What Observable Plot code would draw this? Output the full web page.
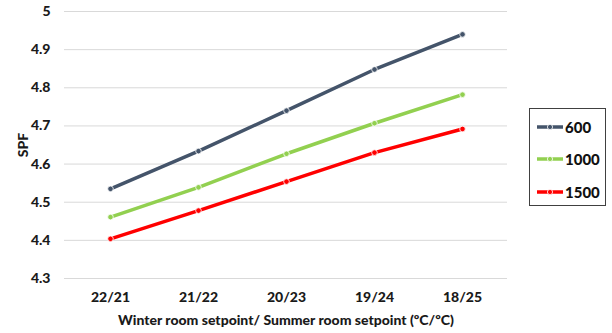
<!DOCTYPE html>
<html>
<head>
<meta charset="utf-8">
<script src="https://cdn.jsdelivr.net/npm/d3@7"></script>
<script src="https://cdn.jsdelivr.net/npm/@observablehq/plot@0.6"></script>
<style>
  html, body { margin: 0; padding: 0; background: #fff; }
  #wrap { position: relative; width: 612px; height: 333px; font-family: Lato, "Liberation Sans", sans-serif; }
  #wrap svg text { font-weight: 900; fill: #1a1a1a; }
  #legend { position: absolute; left: 529px; top: 108px; width: 77px; height: 98px; border: 1px solid #404040; box-sizing: border-box; background: #fff; }
  .item { position: absolute; left: 6px; height: 16px; display: flex; align-items: center; font: 900 15px Lato, "Liberation Sans", sans-serif; color: #111; }
  .item svg { margin-right: 1px; }
</style>
</head>
<body>
<div id="wrap"></div>
<script>
const categories = ["22/21", "21/22", "20/23", "19/24", "18/25"];
const seriesNames = ["600", "1000", "1500"];
const values600 = [4.535, 4.634, 4.740, 4.848, 4.940];
const values1000 = [4.461, 4.539, 4.627, 4.707, 4.782];
const values1500 = [4.404, 4.478, 4.554, 4.630, 4.692];
const seriesColors = ["#44546A", "#92D050", "#FF0000"];
const yTicks = [4.3, 4.4, 4.5, 4.6, 4.7, 4.8, 4.9, 5];

const allValues = [values600, values1000, values1500];
const rows = [];
seriesNames.forEach((s, i) => categories.forEach((c, j) => rows.push({series: s, cat: c, spf: allValues[i][j]})));

const chart = Plot.plot({
  width: 612,
  height: 333,
  marginLeft: 64,
  marginRight: 105,
  marginTop: 11,
  marginBottom: 55,
  style: {fontFamily: "Lato, 'Liberation Sans', sans-serif", fontSize: "14px", background: "#fff"},
  x: {type: "point", domain: categories, padding: 0.5},
  y: {domain: [4.3, 5]},
  color: {domain: seriesNames, range: seriesColors},
  marks: [
    Plot.gridY(yTicks, {stroke: "#d9d9d9", strokeOpacity: 1, strokeWidth: 1}),
    Plot.axisY(yTicks, {tickSize: 0, tickPadding: 14, tickFormat: d3.format("~g"), label: "SPF", labelArrow: false, labelAnchor: "center", labelOffset: 46, fontSize: 14}),
    Plot.axisX({tickSize: 0, tickPadding: 14, label: "Winter room setpoint/ Summer room setpoint (ºC/ºC)", labelArrow: false, labelAnchor: "center", labelOffset: 46, fontSize: 14}),
    Plot.line(rows, {x: "cat", y: "spf", z: "series", stroke: "series", strokeWidth: 3.5}),
    Plot.dot(rows, {x: "cat", y: "spf", fill: "series", stroke: "#fff", strokeWidth: 0.8, r: 2.8})
  ]
});
document.getElementById("wrap").appendChild(chart);

const legend = document.createElement("div");
legend.id = "legend";
const tops = [10, 42, 75];
seriesNames.forEach((s, i) => {
  const item = document.createElement("div");
  item.className = "item";
  item.style.top = tops[i] + "px";
  const c = seriesColors[i];
  item.innerHTML = `<svg width="28" height="10"><line x1="1" x2="27" y1="5" y2="5" stroke="${c}" stroke-width="3.5"/><circle cx="14" cy="5" r="2.6" fill="${c}" stroke="#fff" stroke-width="0.8"/></svg><span>${s}</span>`;
  legend.appendChild(item);
});
document.getElementById("wrap").appendChild(legend);
</script>
</body>
</html>
